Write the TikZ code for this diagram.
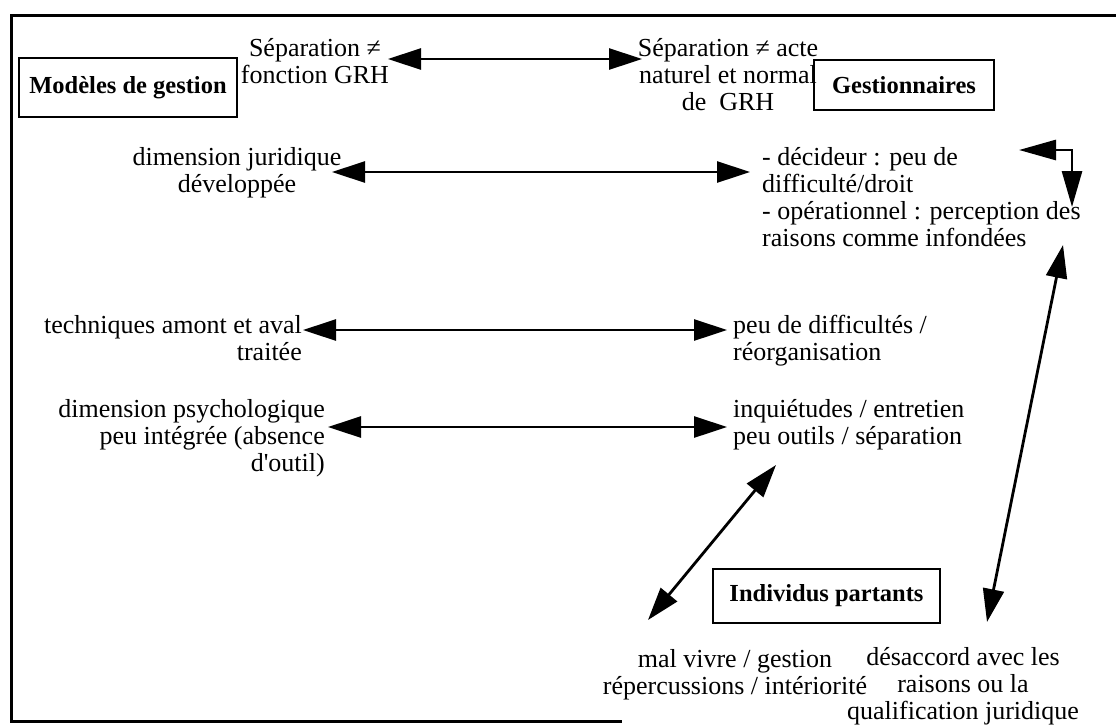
\documentclass[tikz,border=0pt]{standalone}
\usepackage{fontspec}
\setmainfont{Liberation Serif}[Ligatures=TeXOff]
\usetikzlibrary{arrows.meta}
\newcommand\txtfont{\fontsize{26}{27}\selectfont}
\newcommand\hdfont{\fontsize{24.5}{27}\selectfont\bfseries}
\begin{document}
\begin{tikzpicture}[x=1pt,y=-1pt,
  lbl/.style={font=\txtfont, inner sep=0pt},
  actor/.style={draw, line width=2.5pt, font=\hdfont, inner sep=0pt},
  link/.style={line width=2.8pt,
    {Triangle[length=33pt,width=21pt]}-{Triangle[length=33pt,width=21pt]}},
  frame/.style={line width=3pt}]
\useasboundingbox (0,0) rectangle (1116,726);

% outer frame (open on the right)
\draw[frame] (1130,15) -- (11,15) -- (11,721) -- (622,721);

% the three actors
\node[actor, minimum width=218pt, minimum height=59pt] (mg) at (128,87.5) {Modèles de gestion};
\node[actor, minimum width=180pt, minimum height=50pt] (gs) at (904,85) {Gestionnaires};
\node[actor, minimum width=227pt, minimum height=54pt] (ip) at (826.5,596) {Individus partants};

% top pair
\node[lbl, align=center, anchor=north] (sepL) at (315,37) {\strut Séparation ≠\\fonction GRH};
\node[lbl, align=center, anchor=north] (sepR) at (728,37) {\strut Séparation ≠ acte\\naturel et normal\\de~ GRH};

% row 1
\node[lbl, align=center, anchor=north] (l1) at (237,146) {\strut dimension juridique\\développée};
\node[lbl, align=left, anchor=north west] (r1) at (762,146)
  {\strut - décideur : peu de\\difficulté/droit\\- opérationnel : perception des\\raisons comme infondées};

% row 2
\node[lbl, align=right, anchor=north east] (l2) at (302,314) {\strut techniques amont et aval\\traitée};
\node[lbl, align=left, anchor=north west] (r2) at (733,314) {\strut peu de difficultés /\\réorganisation};

% row 3
\node[lbl, align=right, anchor=north east] (l3) at (325,398)
  {\strut dimension psychologique\\peu intégrée (absence\\d'outil)};
\node[lbl, align=left, anchor=north west] (r3) at (733,398) {\strut inquiétudes / entretien\\peu outils / séparation};

% bottom texts
\node[lbl, align=center, anchor=north] (b1) at (735,648) {\strut mal vivre / gestion\\répercussions / intériorité};
\node[lbl, align=center, anchor=north] (b2) at (963,646) {\strut désaccord avec les\\raisons ou la\\qualification juridique};

% connector end points
\coordinate (t0) at (388,59);   \coordinate (t1) at (642,59);
\coordinate (a1) at (332,172);  \coordinate (b1e) at (750,172);
\coordinate (a2) at (303,330);  \coordinate (b2e) at (727,330);
\coordinate (a3) at (328,427);  \coordinate (b3e) at (727,427);
\coordinate (e0) at (1019,150); \coordinate (ec) at (1072,150); \coordinate (e1) at (1072,207);
\coordinate (d0) at (1063,245); \coordinate (d1) at (987,622);
\coordinate (g0) at (776,465);  \coordinate (g1) at (648,620);

% connectors
\draw[link] (t0) -- (t1);
\draw[link] (a1) -- (b1e);
\draw[link] (a2) -- (b2e);
\draw[link] (a3) -- (b3e);
\draw[link, {Triangle[length=37pt,width=20pt]}-{Triangle[length=36pt,width=20pt]}] (e0) -- (ec) -- (e1);
\draw[link] (d0) -- (d1);
\draw[link] (g0) -- (g1);
\end{tikzpicture}
\end{document}
